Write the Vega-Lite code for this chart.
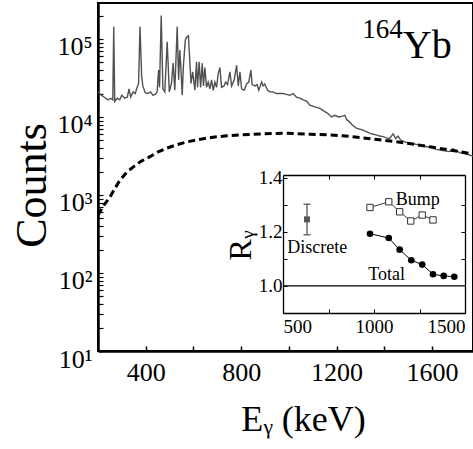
{
  "$schema": "https://vega.github.io/schema/vega-lite/v6.json",
  "width": 375,
  "height": 348,
  "autosize": {"type": "none"},
  "padding": {"left": 98, "top": 3, "right": 0, "bottom": 98},
  "config": {
    "view": {"stroke": "black", "strokeWidth": 2},
    "axis": {"labelFont": "Liberation Serif", "titleFont": "Liberation Serif", "titleFontWeight": "normal", "labelColor": "black", "titleColor": "black", "domainColor": "black", "tickColor": "black", "grid": false, "labelOverlap": false, "labelBound": false},
    "text": {"font": "Liberation Serif", "color": "black"}
  },
  "datasets": {
    "spectrum": [
      {"E":200,"C":21000},{"E":214,"C":19000},{"E":228,"C":17800},{"E":242,"C":16600},{"E":253,"C":17400},{"E":262,"C":16600},{"E":266,"C":144000},{"E":270,"C":15800},{"E":281,"C":17400},{"E":291,"C":16600},{"E":300,"C":19000},{"E":312,"C":17400},{"E":323,"C":18000},{"E":330,"C":23000},{"E":337,"C":18000},{"E":347,"C":21000},{"E":356,"C":20000},{"E":365,"C":24500},{"E":370,"C":27000},{"E":376,"C":144000},{"E":383,"C":33000},{"E":388,"C":25000},{"E":398,"C":20500},{"E":409,"C":20000},{"E":420,"C":21000},{"E":430,"C":19000},{"E":440,"C":19500},{"E":448,"C":21000},{"E":454,"C":40000},{"E":458,"C":24000},{"E":465,"C":200000},{"E":472,"C":23000},{"E":480,"C":21000},{"E":490,"C":92000},{"E":499,"C":21000},{"E":508,"C":27000},{"E":515,"C":49000},{"E":522,"C":22000},{"E":532,"C":144000},{"E":538,"C":30000},{"E":543,"C":72000},{"E":548,"C":40000},{"E":553,"C":19000},{"E":558,"C":45000},{"E":566,"C":97000},{"E":572,"C":106000},{"E":579,"C":110000},{"E":583,"C":66000},{"E":590,"C":27000},{"E":597,"C":38000},{"E":606,"C":22000},{"E":613,"C":51000},{"E":617,"C":24000},{"E":624,"C":51000},{"E":630,"C":24000},{"E":637,"C":49000},{"E":642,"C":25000},{"E":648,"C":43000},{"E":655,"C":24000},{"E":662,"C":28000},{"E":669,"C":23000},{"E":676,"C":30000},{"E":683,"C":22000},{"E":690,"C":28000},{"E":697,"C":24000},{"E":704,"C":36000},{"E":711,"C":43000},{"E":718,"C":24000},{"E":728,"C":25000},{"E":735,"C":28000},{"E":743,"C":26000},{"E":753,"C":38000},{"E":760,"C":25000},{"E":771,"C":30000},{"E":781,"C":46000},{"E":788,"C":25000},{"E":795,"C":38000},{"E":802,"C":23000},{"E":813,"C":22000},{"E":823,"C":26500},{"E":832,"C":28000},{"E":841,"C":40000},{"E":846,"C":26000},{"E":858,"C":25000},{"E":867,"C":26000},{"E":874,"C":22000},{"E":886,"C":28000},{"E":892,"C":25000},{"E":899,"C":26500},{"E":911,"C":22000},{"E":920,"C":21000},{"E":934,"C":21000},{"E":948,"C":20000},{"E":962,"C":20000},{"E":976,"C":20000},{"E":990,"C":19500},{"E":1004,"C":19000},{"E":1018,"C":20000},{"E":1032,"C":18000},{"E":1046,"C":17500},{"E":1060,"C":16600},{"E":1074,"C":16000},{"E":1088,"C":14200},{"E":1109,"C":13500},{"E":1130,"C":12900},{"E":1151,"C":11700},{"E":1165,"C":11000},{"E":1179,"C":10000},{"E":1193,"C":10500},{"E":1207,"C":10000},{"E":1221,"C":10200},{"E":1235,"C":10500},{"E":1242,"C":9300},{"E":1252,"C":8800},{"E":1266,"C":7900},{"E":1283,"C":7200},{"E":1297,"C":7000},{"E":1311,"C":6800},{"E":1325,"C":6500},{"E":1339,"C":6200},{"E":1353,"C":6000},{"E":1367,"C":5900},{"E":1381,"C":5700},{"E":1395,"C":5600},{"E":1409,"C":5400},{"E":1423,"C":5300},{"E":1437,"C":6100},{"E":1448,"C":5300},{"E":1458,"C":5700},{"E":1468,"C":5100},{"E":1486,"C":4800},{"E":1507,"C":4600},{"E":1535,"C":4450},{"E":1562,"C":4250},{"E":1591,"C":4100},{"E":1619,"C":3850},{"E":1646,"C":3700},{"E":1674,"C":3600},{"E":1688,"C":3900},{"E":1716,"C":3500},{"E":1744,"C":3350},{"E":1772,"C":3150}
    ],
    "fit": [
      {"E":200,"C":555},{"E":225,"C":740},{"E":250,"C":942},{"E":270,"C":1200},{"E":292,"C":1550},{"E":320,"C":1950},{"E":347,"C":2280},{"E":380,"C":2700},{"E":418,"C":3100},{"E":450,"C":3550},{"E":489,"C":4000},{"E":530,"C":4400},{"E":573,"C":4800},{"E":630,"C":5200},{"E":682,"C":5500},{"E":740,"C":5750},{"E":795,"C":5900},{"E":900,"C":6100},{"E":992,"C":6200},{"E":1090,"C":6000},{"E":1172,"C":5900},{"E":1250,"C":5650},{"E":1310,"C":5400},{"E":1380,"C":5100},{"E":1452,"C":4800},{"E":1520,"C":4500},{"E":1590,"C":4150},{"E":1680,"C":3750},{"E":1772,"C":3360}
    ],
    "total": [
      {"E":978,"R":1.193},{"E":1081,"R":1.177},{"E":1141,"R":1.134},{"E":1205,"R":1.095},{"E":1265,"R":1.079},{"E":1324,"R":1.043},{"E":1383,"R":1.037},{"E":1441,"R":1.034}
    ],
    "bump": [
      {"E":978,"R":1.29},{"E":1081,"R":1.311},{"E":1141,"R":1.274},{"E":1202,"R":1.24},{"E":1265,"R":1.262},{"E":1324,"R":1.244}
    ],
    "discrete": [
      {"E":632,"R":1.246,"lo":1.189,"hi":1.302}
    ]
  },
  "layer": [
    {
      "layer": [
        {
          "data": {"name": "spectrum"},
          "mark": {"type": "line", "color": "#505050", "strokeWidth": 1.4},
          "encoding": {
            "x": {"field": "E", "type": "quantitative",
              "scale": {"domain": [200, 1772], "nice": false, "zero": false},
              "axis": {"orient": "bottom", "values": [400, 600, 800, 1000, 1200, 1400, 1600],
                "labelExpr": "datum.value % 400 === 0 ? format(datum.value, 'd') : ''",
                "tickSize": -5, "tickWidth": 1.5, "domainWidth": 2.5, "labelPadding": 13, "labelFontSize": 26,
                "title": "Eᵧ (keV)", "titleFontSize": 36, "titleX": 205, "titleY": 79, "titleAlign": "center", "titleBaseline": "alphabetic"}},
            "y": {"field": "C", "type": "quantitative",
              "scale": {"type": "log", "domain": [10, 289400], "nice": false},
              "axis": {"orient": "left", "values": [10,20,30,40,50,60,70,80,90,100,200,300,400,500,600,700,800,900,1000,2000,3000,4000,5000,6000,7000,8000,9000,10000,20000,30000,40000,50000,60000,70000,80000,90000,100000,200000],
                "labelExpr": "datum.value == 10 ? '10¹' : datum.value == 100 ? '10²' : datum.value == 1000 ? '10³' : datum.value == 10000 ? '10⁴' : datum.value == 100000 ? '10⁵' : ''",
                "tickSize": -5, "tickWidth": 1.2, "domainWidth": 2.5, "labelPadding": 11, "labelFontSize": 26, "labelBaseline": "alphabetic", "labelOffset": 16,
                "title": "Counts", "titleFontSize": 44, "titleAngle": 270, "titleX": -53, "titleY": 182, "titleAlign": "center", "titleBaseline": "alphabetic"}}
          }
        },
        {
          "data": {"name": "fit"},
          "mark": {"type": "line", "color": "black", "strokeWidth": 3, "strokeDash": [7, 4]},
          "encoding": {"x": {"field": "E", "type": "quantitative"}, "y": {"field": "C", "type": "quantitative"}}
        },
        {
          "data": {"values": [{"t": "164", "E": 1478, "C": 102000}]},
          "mark": {"type": "text", "fontSize": 27, "align": "right", "baseline": "alphabetic"},
          "encoding": {"x": {"field": "E", "type": "quantitative"}, "y": {"field": "C", "type": "quantitative"}, "text": {"field": "t"}}
        },
        {
          "data": {"values": [{"t": "Yb", "E": 1478, "C": 56600}]},
          "mark": {"type": "text", "fontSize": 40, "align": "left", "baseline": "alphabetic"},
          "encoding": {"x": {"field": "E", "type": "quantitative"}, "y": {"field": "C", "type": "quantitative"}, "text": {"field": "t"}}
        }
      ]
    },
    {
      "layer": [
        {
          "data": {"values": [{"R": 1.0}]},
          "mark": {"type": "rule", "color": "black", "strokeWidth": 1.3},
          "encoding": {"x": {"datum": 500, "type": "quantitative"}, "x2": {"datum": 1500}, "y": {"field": "R", "type": "quantitative"}}
        },
        {
          "data": {"name": "total"},
          "mark": {"type": "line", "color": "black", "strokeWidth": 1},
          "encoding": {
            "x": {"field": "E", "type": "quantitative",
              "scale": {"domain": [500, 1500], "range": [185, 367], "nice": false, "zero": false},
              "axis": {"orient": "bottom", "offset": -38, "values": [500, 750, 1000, 1250, 1500],
                "labelExpr": "datum.value % 500 === 0 ? format(datum.value, 'd') : ''",
                "labelFlush": true, "labelFlushOffset": 0, "tickSize": -4, "tickWidth": 1, "labelPadding": 8, "labelFontSize": 19,
                "domainWidth": 1.3, "title": null, "zindex": 1}},
            "y": {"field": "R", "type": "quantitative",
              "scale": {"domain": [0.9, 1.41], "range": [310, 172], "nice": false, "zero": false},
              "axis": {"orient": "left", "offset": -185, "values": [1.0, 1.1, 1.2, 1.3, 1.4],
                "labelExpr": "(abs(datum.value-1.0)<0.01 || abs(datum.value-1.2)<0.01 || abs(datum.value-1.4)<0.01) ? format(datum.value, '.1f') : ''",
                "tickSize": -4, "tickWidth": 1, "labelPadding": 5, "labelFontSize": 19, "domainWidth": 1.3,
                "title": "Rᵧ", "titleFontSize": 32, "titleAngle": 270, "titleX": -33, "titleY": 242, "titleAlign": "center", "titleBaseline": "alphabetic", "zindex": 1}}
          }
        },
        {
          "data": {"name": "total"},
          "mark": {"type": "point", "shape": "circle", "filled": true, "color": "black", "size": 44, "opacity": 1},
          "encoding": {"x": {"field": "E", "type": "quantitative"}, "y": {"field": "R", "type": "quantitative"}}
        },
        {
          "data": {"name": "bump"},
          "mark": {"type": "line", "color": "#404040", "strokeWidth": 1},
          "encoding": {"x": {"field": "E", "type": "quantitative"}, "y": {"field": "R", "type": "quantitative"}}
        },
        {
          "data": {"name": "bump"},
          "mark": {"type": "point", "shape": "square", "filled": true, "fill": "white", "stroke": "#303030", "strokeWidth": 1, "size": 40, "opacity": 1},
          "encoding": {"x": {"field": "E", "type": "quantitative"}, "y": {"field": "R", "type": "quantitative"}}
        },
        {
          "data": {"name": "discrete"},
          "mark": {"type": "rule", "color": "#555555", "strokeWidth": 1.3},
          "encoding": {"x": {"field": "E", "type": "quantitative"}, "y": {"field": "lo", "type": "quantitative"}, "y2": {"field": "hi"}}
        },
        {
          "data": {"name": "discrete"},
          "mark": {"type": "tick", "orient": "horizontal", "size": 7, "thickness": 1.3, "color": "#555555", "opacity": 1},
          "encoding": {"x": {"field": "E", "type": "quantitative"}, "y": {"field": "lo", "type": "quantitative"}}
        },
        {
          "data": {"name": "discrete"},
          "mark": {"type": "tick", "orient": "horizontal", "size": 7, "thickness": 1.3, "color": "#555555", "opacity": 1},
          "encoding": {"x": {"field": "E", "type": "quantitative"}, "y": {"field": "hi", "type": "quantitative"}}
        },
        {
          "data": {"name": "discrete"},
          "mark": {"type": "point", "shape": "square", "filled": true, "color": "#555555", "size": 36, "opacity": 1},
          "encoding": {"x": {"field": "E", "type": "quantitative"}, "y": {"field": "R", "type": "quantitative"}}
        },
        {
          "data": {"values": [{"t": "Bump", "E": 1119, "R": 1.299}, {"t": "Total", "E": 969, "R": 1.022}, {"t": "Discrete", "E": 524, "R": 1.12}]},
          "mark": {"type": "text", "fontSize": 18, "align": "left", "baseline": "alphabetic"},
          "encoding": {"x": {"field": "E", "type": "quantitative"}, "y": {"field": "R", "type": "quantitative"}, "text": {"field": "t"}}
        }
      ]
    },
    {
      "data": {"name": "total"},
      "mark": {"type": "point", "opacity": 0},
      "encoding": {
        "x": {"field": "E", "type": "quantitative",
          "scale": {"domain": [500, 1500], "range": [185, 367], "nice": false, "zero": false},
          "axis": {"orient": "top", "offset": -172, "values": [750, 1000, 1250], "labels": false, "tickSize": -4, "tickWidth": 1, "domainWidth": 1.3, "title": null, "zindex": 1}},
        "y": {"field": "R", "type": "quantitative",
          "scale": {"domain": [0.9, 1.41], "range": [310, 172], "nice": false, "zero": false},
          "axis": {"orient": "right", "offset": -8, "values": [1.1, 1.2, 1.3], "labels": false, "tickSize": -4, "tickWidth": 1, "domainWidth": 1.3, "title": null, "zindex": 1}}
      }
    }
  ],
  "resolve": {"scale": {"x": "independent", "y": "independent"}, "axis": {"x": "independent", "y": "independent"}}
}
